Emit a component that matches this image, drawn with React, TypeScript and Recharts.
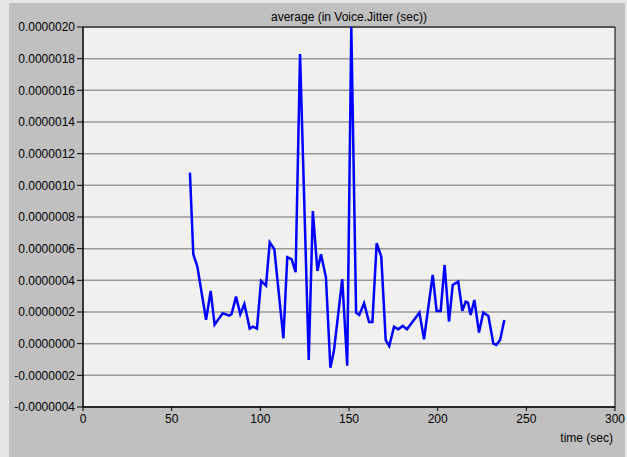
import React from 'react';
import { LineChart, Line, XAxis, YAxis, CartesianGrid, ReferenceArea } from 'recharts';

const times = [60.3, 62.2, 64.5, 69.4, 72.0, 74.2, 78.8, 82.5, 83.8, 86.3, 88.7, 91.0, 94.0, 95.9, 98.1, 100.4, 103.2, 105.3, 107.9, 113.0, 115.2, 117.7, 119.9, 122.4, 127.3, 129.6, 132.2, 134.2, 137.0, 139.5, 141.5, 146.2, 149.0, 151.3, 154.0, 155.8, 158.5, 161.3, 163.2, 165.6, 168.2, 170.7, 172.7, 175.4, 177.8, 180.3, 182.7, 189.7, 192.3, 197.2, 199.4, 201.7, 203.9, 206.4, 208.5, 211.6, 213.9, 215.8, 217.1, 218.6, 220.7, 223.3, 225.7, 228.6, 231.4, 233.1, 235.2, 237.6];

const jitter = [1.08e-6, 5.65e-7, 4.86e-7, 1.5e-7, 3.33e-7, 1.2e-7, 1.92e-7, 1.77e-7, 1.88e-7, 2.97e-7, 1.86e-7, 2.51e-7, 0.95e-7, 1.07e-7, 0.95e-7, 3.96e-7, 3.67e-7, 6.4e-7, 5.96e-7, 0.34e-7, 5.46e-7, 5.33e-7, 4.51e-7, 1.83e-6, -1.03e-7, 8.38e-7, 4.59e-7, 5.65e-7, 4.19e-7, -1.52e-7, -0.45e-7, 4.07e-7, -1.39e-7, 2.0e-6, 1.96e-7, 1.81e-7, 2.55e-7, 1.37e-7, 1.37e-7, 6.34e-7, 5.5e-7, 0.23e-7, -0.15e-7, 1.07e-7, 0.91e-7, 1.12e-7, 0.91e-7, 1.96e-7, 0.28e-7, 4.34e-7, 2.07e-7, 2.07e-7, 4.97e-7, 1.39e-7, 3.71e-7, 3.92e-7, 2.07e-7, 2.65e-7, 2.59e-7, 1.81e-7, 2.76e-7, 0.7e-7, 1.96e-7, 1.75e-7, 0.02e-7, -0.08e-7, 0.23e-7, 1.5e-7];

const xTicks = [0, 50, 100, 150, 200, 250, 300];
const yTicks = [-4e-7, -2e-7, 0, 2e-7, 4e-7, 6e-7, 8e-7, 1e-6, 1.2e-6, 1.4e-6, 1.6e-6, 1.8e-6, 2e-6];

const title = 'average (in Voice.Jitter (sec))';
const xLabel = 'time (sec)';

const data = times.map((t, i) => ({ t, v: jitter[i] }));

const font = '"Liberation Sans", Arial, sans-serif';

export default function App() {
  return (
    <div style={{ position: 'absolute', left: 0, top: 0, width: 627, height: 457, background: '#e6e6e6', fontFamily: font, overflow: 'hidden' }}>
      <div style={{ position: 'absolute', left: 9, top: 3, width: 616, height: 454, background: '#c0c0c0' }} />
      <div style={{ position: 'absolute', left: 0, top: 0 }}>
        <LineChart width={627} height={457} data={data} margin={{ top: 27, right: 12, bottom: 20, left: 8 }}>
          <CartesianGrid vertical={false} stroke="#9a9a9a" strokeWidth={1.5} fill="#f0f0f0" horizontalValues={yTicks} />
          <XAxis
            type="number"
            dataKey="t"
            domain={[0, 300]}
            ticks={xTicks}
            height={30}
            tickSize={4}
            tickMargin={3}
            interval={0}
            stroke="#000"
            tick={{ fill: '#000', fontSize: 12, fontFamily: font }}
          />
          <YAxis
            type="number"
            domain={[-4e-7, 2e-6]}
            ticks={yTicks}
            width={75}
            tickSize={6}
            tickMargin={2}
            interval={0}
            allowDataOverflow
            stroke="#000"
            tickFormatter={(v: number) => v.toFixed(7)}
            tick={{ fill: '#000', fontSize: 12, fontFamily: font }}
          />
          <ReferenceArea x1={0} x2={300} y1={-4e-7} y2={2e-6} fill="none" stroke="#000" strokeWidth={1} ifOverflow="visible" />
          <Line type="linear" dataKey="v" stroke="#0000ff" strokeWidth={2.5} dot={false} isAnimationActive={false} />
        </LineChart>
      </div>
      <div style={{ position: 'absolute', left: 0, width: 698, top: 10, textAlign: 'center', fontSize: 12, color: '#000', lineHeight: '14px' }}>{title}</div>
      <div style={{ position: 'absolute', right: 14, top: 431, fontSize: 12, color: '#000', lineHeight: '14px' }}>{xLabel}</div>
    </div>
  );
}
